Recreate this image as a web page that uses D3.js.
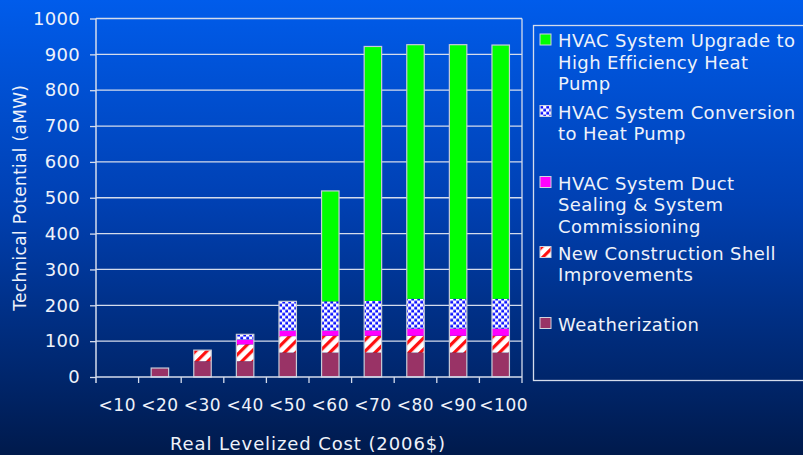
<!DOCTYPE html>
<html>
<head>
<meta charset="utf-8">
<script src="https://cdn.jsdelivr.net/npm/d3@7"></script>
<style>
  html, body { margin: 0; padding: 0; background: #001a4d; }
  svg { display: block; font-family: "DejaVu Sans", Verdana, sans-serif; }
</style>
</head>
<body>
<div id="chart"></div>
<script>
// values (aMW)
const categories = ["<10", "<20", "<30", "<40", "<50", "<60", "<70", "<80", "<90", "<100"]
const weatherization = [0, 25, 44, 44, 68, 68, 68, 68, 68, 68]
const shellImprovements = [0, 0, 31, 47, 46, 47, 47, 47, 47, 47]
const ductSealing = [0, 0, 0, 13, 15, 14, 15, 20, 20, 20]
const heatPumpConversion = [0, 0, 0, 15, 82, 82, 82, 83, 83, 83]
const heatPumpUpgrade = [0, 0, 0, 0, 0, 308, 710, 709, 709, 708]
const yTicks = [0, 100, 200, 300, 400, 500, 600, 700, 800, 900, 1000]

const seriesNames = ["weather", "shell", "duct", "conv", "upgrade"]
const legendLabels = {
    upgrade: ["HVAC System Upgrade to", "High Efficiency Heat", "Pump"],
    conv: ["HVAC System Conversion", "to Heat Pump"],
    duct: ["HVAC System Duct", "Sealing & System", "Commissioning"],
    shell: ["New Construction Shell", "Improvements"],
    weather: ["Weatherization"]
}

const W = 803, H = 455
const margin = {top: 18.5, right: 281, bottom: 78, left: 96}
const width = W - margin.left - margin.right,
    height = H - margin.top - margin.bottom

const table = categories.map((c, i) => ({
    cat: c,
    weather: weatherization[i],
    shell: shellImprovements[i],
    duct: ductSealing[i],
    conv: heatPumpConversion[i],
    upgrade: heatPumpUpgrade[i]
}))

const svg = d3.select("#chart").append("svg")
    .attr("width", W)
    .attr("height", H)

const defs = svg.append("defs")

// background gradient
const grad = defs.append("linearGradient")
    .attr("id", "bg").attr("x1", 0).attr("y1", 0).attr("x2", 0).attr("y2", 1)
grad.append("stop").attr("offset", "0%").attr("stop-color", "#005ceb")
grad.append("stop").attr("offset", "45%").attr("stop-color", "#0040b2")
grad.append("stop").attr("offset", "100%").attr("stop-color", "#001a4c")

// diagonal red stripes
const stripe = defs.append("pattern")
    .attr("id", "stripes").attr("patternUnits", "userSpaceOnUse")
    .attr("width", 8).attr("height", 8)
    .attr("patternTransform", "rotate(45)")
stripe.append("rect").attr("width", 8).attr("height", 8).attr("fill", "#ffffff")
stripe.append("rect").attr("width", 3.2).attr("height", 8).attr("fill", "#ff1010")

// blue checker
const check = defs.append("pattern")
    .attr("id", "checker").attr("patternUnits", "userSpaceOnUse")
    .attr("width", 6).attr("height", 6)
check.append("rect").attr("width", 6).attr("height", 6).attr("fill", "#ffffff")
check.append("rect").attr("x", 0.3).attr("y", 0.3).attr("width", 2.8).attr("height", 2.8).attr("fill", "#0a10ff")
check.append("rect").attr("x", 3.3).attr("y", 3.3).attr("width", 2.8).attr("height", 2.8).attr("fill", "#0a10ff")

const fills = {
    weather: "#993366",
    shell: "url(#stripes)",
    duct: "#ff00ff",
    conv: "url(#checker)",
    upgrade: "#00ff00"
}

svg.append("rect").attr("width", W).attr("height", H).attr("fill", "url(#bg)")

const g = svg.append("g")
    .attr("transform", "translate(" + margin.left + "," + margin.top + ")")

const x = d3.scaleBand()
    .domain(categories)
    .range([0, width])
    .padding(0)

const y = d3.scaleLinear()
    .domain([0, 1000])
    .range([height, 0])

const axisColor = "#d4dcec"
const textColor = "#eef2fa"

// gridlines
g.append("g")
    .selectAll("line")
    .data(yTicks.slice(1))
    .join("line")
    .attr("x1", 0).attr("x2", width)
    .attr("y1", d => y(d)).attr("y2", d => y(d))
    .attr("stroke", axisColor).attr("stroke-width", 1.3)

// right border of plot
g.append("line")
    .attr("x1", width).attr("x2", width)
    .attr("y1", 0).attr("y2", height)
    .attr("stroke", axisColor).attr("stroke-width", 1.3)

// stacked bars
const stacked = d3.stack().keys(seriesNames)(table)
const barW = x.bandwidth() * 0.41

g.append("g")
    .selectAll("g")
    .data(stacked)
    .join("g")
    .attr("fill", d => fills[d.key])
    .selectAll("rect")
    .data(d => d.filter(s => s[1] - s[0] > 0))
    .join("rect")
    .attr("x", d => x(d.data.cat) + (x.bandwidth() - barW) / 2)
    .attr("y", d => y(d[1]))
    .attr("width", barW)
    .attr("height", d => y(d[0]) - y(d[1]))

// outline around each whole bar
g.append("g")
    .selectAll("rect")
    .data(table.filter(d => d3.sum(seriesNames, k => d[k]) > 0))
    .join("rect")
    .attr("x", d => x(d.cat) + (x.bandwidth() - barW) / 2)
    .attr("y", d => y(d3.sum(seriesNames, k => d[k])))
    .attr("width", barW)
    .attr("height", d => height - y(d3.sum(seriesNames, k => d[k])))
    .attr("fill", "none")
    .attr("stroke", "#c8ccd8")
    .attr("stroke-width", 1.2)

// y axis
const yAxis = g.append("g")
    .call(d3.axisLeft(y).tickValues(yTicks).tickFormat(d3.format("d")).tickSize(6).tickPadding(10))
yAxis.select(".domain").attr("stroke", axisColor).attr("stroke-width", 1.5)
    .attr("d", "M0,0V" + (height + 6))
yAxis.selectAll(".tick line").attr("stroke", axisColor).attr("stroke-width", 1.3)
yAxis.selectAll("text")
    .attr("fill", textColor)
    .attr("font-size", "18px")
    .attr("letter-spacing", "0.3px")
    .attr("font-family", "DejaVu Sans, sans-serif")

// x axis with ticks at band edges
const xAxis = g.append("g")
    .attr("transform", "translate(0," + height + ")")
    .call(d3.axisBottom(x).tickSize(0).tickPadding(22))
xAxis.select(".domain").attr("stroke", axisColor).attr("stroke-width", 1.5)
    .attr("d", "M0,0H" + width)
xAxis.selectAll("text")
    .attr("fill", textColor)
    .attr("font-size", "17px")
    .attr("letter-spacing", "0.5px")
    .attr("font-family", "DejaVu Sans, sans-serif")
// the last label sits a little right of its band, as in the source slide
xAxis.selectAll(".tick").filter(d => d === "<100").select("text").attr("dx", 3)
xAxis.selectAll(".edge")
    .data(categories.slice(1).map(c => x(c)).concat([width]))
    .join("line")
    .attr("class", "edge")
    .attr("x1", d => d).attr("x2", d => d)
    .attr("y1", 0).attr("y2", 6)
    .attr("stroke", axisColor).attr("stroke-width", 1.3)

// axis titles
svg.append("text")
    .attr("transform", "translate(26," + (margin.top + height / 2) + ") rotate(-90)")
    .attr("text-anchor", "middle")
    .attr("fill", textColor)
    .attr("font-size", "17px")
    .attr("letter-spacing", "0.3px")
    .text("Technical Potential (aMW)")

svg.append("text")
    .attr("x", 308)
    .attr("y", 450)
    .attr("text-anchor", "middle")
    .attr("fill", textColor)
    .attr("font-size", "18px")
    .attr("letter-spacing", "0.9px")
    .text("Real Levelized Cost (2006$)")

// legend
svg.append("rect")
    .attr("x", 533.5).attr("y", 25.5)
    .attr("width", 300).attr("height", 355)
    .attr("fill", "none")
    .attr("stroke", axisColor).attr("stroke-width", 1.3)

const legendTop = {upgrade: 34, conv: 105.5, duct: 176.5, shell: 246.5, weather: 317.5}
const legendOrder = ["upgrade", "conv", "duct", "shell", "weather"]

const leg = svg.append("g")
    .selectAll("g")
    .data(legendOrder)
    .join("g")
    .attr("transform", d => "translate(540," + legendTop[d] + ")")

leg.append("rect")
    .attr("width", 11).attr("height", 11)
    .attr("fill", d => fills[d])
    .attr("stroke", "#d0d4e0").attr("stroke-width", 1)

leg.append("text")
    .attr("fill", textColor)
    .attr("font-size", "18px")
    .attr("letter-spacing", "0.4px")
    .selectAll("tspan")
    .data(d => legendLabels[d])
    .join("tspan")
    .attr("x", 18)
    .attr("y", (d, i) => 13 + i * 21.5)
    .text(d => d)
</script>
</body>
</html>
